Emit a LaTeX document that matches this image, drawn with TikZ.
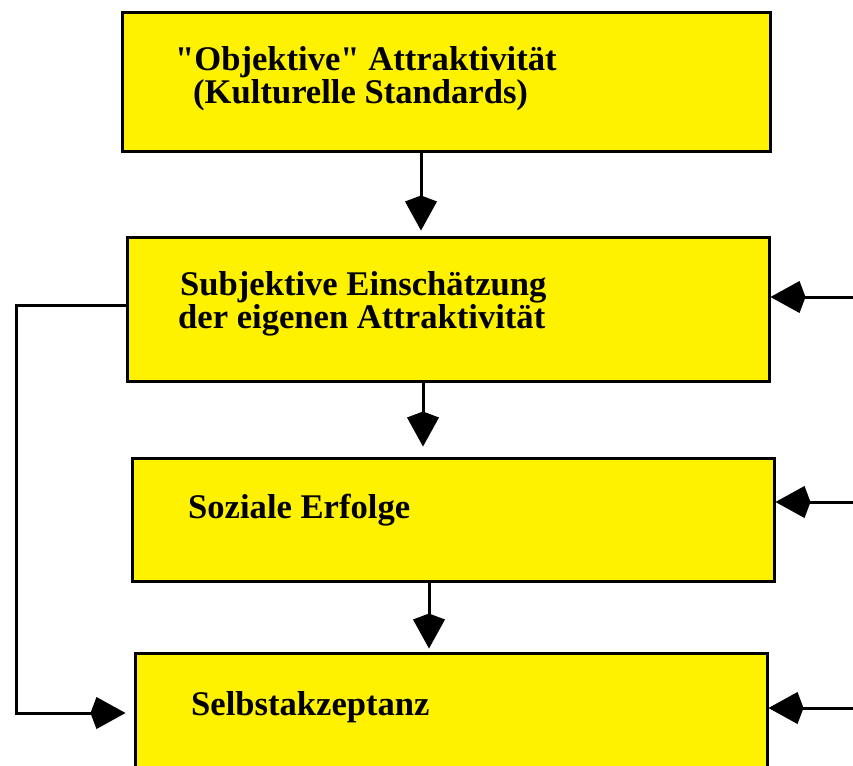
\documentclass[tikz,border=0pt]{standalone}
\usepackage{fontspec}
\setmainfont{Liberation Serif}
\usetikzlibrary{arrows.meta}
\definecolor{boxyellow}{RGB}{255,242,0}
\tikzset{
  box/.style={draw=black, fill=boxyellow, line width=3pt, inner sep=0pt},
  label/.style={anchor=base west, inner sep=0pt, font=\bfseries\fontsize{34.6}{32}\selectfont},
  arr/.style={line width=3pt, -{Kite[length=35pt,width=32pt,inset=6pt]}}
}
\begin{document}
\begin{tikzpicture}[x=1pt,y=-1pt]
\useasboundingbox (0,0) rectangle (853,765);
\clip (0,0) rectangle (853,765);

% boxes
\node[box, minimum width=648pt, minimum height=138pt] (b1) at (446,82) {};
\node[box, minimum width=642pt, minimum height=144pt] (b2) at (448,309) {};
\node[box, minimum width=642pt, minimum height=123pt] (b3) at (453,519.5) {};
\node[box, minimum width=632pt, minimum height=147pt] (b4) at (451,726.5) {};

% box texts
\node[label] (t1a) at (175,71) {\textquotedbl Objektive\textquotedbl{} Attraktivität};
\node[label] (t1b) at (193,104) {(Kulturelle Standards)};
\node[label] (t2a) at (180,295) {Subjektive Einschätzung};
\node[label] (t2b) at (178,328) {der eigenen Attraktivität};
\node[label] (t3) at (188,518) {Soziale Erfolge};
\node[label] (t4) at (191,715) {Selbstakzeptanz};

% downward arrows
\draw[arr, shorten >=5pt] ([xshift=-25pt]b1.south) -- ([xshift=-25pt]b1.south |- b2.north);
\draw[arr, shorten >=10pt] ([xshift=-25pt]b2.south) -- ([xshift=-25pt]b2.south |- b3.north);
\draw[arr, shorten >=3pt] ([xshift=-24pt]b3.south) -- ([xshift=-24pt]b3.south |- b4.north);

% inputs from the right
\coordinate (r2) at (853,297);
\coordinate (r3) at (853,502);
\coordinate (r4) at (853,708);
\draw[arr] (r2) -- (r2 -| b2.east);
\draw[arr] (r3) -- (r3 -| b3.east);
\draw[arr] (r4) -- (r4 -| b4.east);

% feedback loop on the left
\coordinate (fb) at (16,713);
\draw[arr, shorten >=8pt, line join=miter] ([yshift=4pt]b2.west) -| (fb) -- (fb -| b4.west);
\end{tikzpicture}
\end{document}
